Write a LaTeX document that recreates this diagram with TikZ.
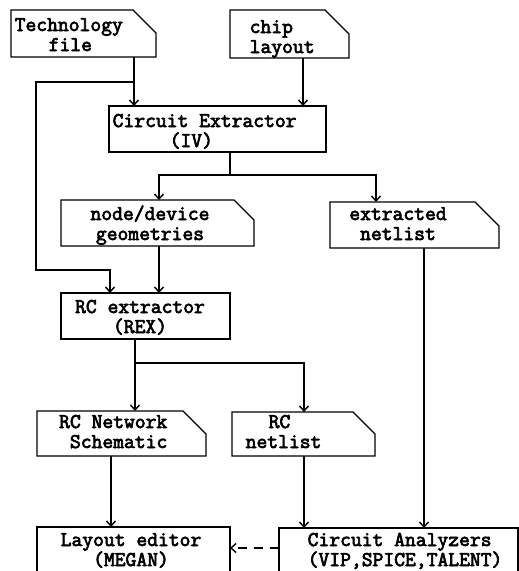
\documentclass[tikz,border=0pt]{standalone}
\usepackage{fontspec}
\newfontfamily\boldmono[FakeBold=3.2]{Latin Modern Mono}
\usetikzlibrary{arrows.meta}
\newcommand\docshape[2]{\draw (#1.south west) -- (#1.north west) -- ([xshift=-#2pt]#1.north east) -- ([yshift=-#2pt]#1.north east) -- (#1.south east) -- cycle;}
\begin{document}
\begin{tikzpicture}[x=1pt,y=-1pt,
  line width=1.4pt,
  boxn/.style={draw=none, inner sep=0pt, outer sep=0pt, rectangle},
  rectbox/.style={draw, inner sep=0pt, outer sep=0pt, rectangle},
  lbl/.style={font=\fontsize{21}{20}\boldmono, inner sep=0pt},
  arr/.style={-{Straight Barb[length=5pt,width=9pt]}},
  ]
\useasboundingbox (0,0) rectangle (519,571);
\clip (0,0) rectangle (519,571);
% boxes
\node[boxn, minimum width=145pt, minimum height=47pt] (tech) at (83.5,33.5) {};
\node[boxn, minimum width=119pt, minimum height=48pt] (chip) at (289.5,34) {};
\node[rectbox, minimum width=217pt, minimum height=46pt] (CE) at (217.5,129) {};
\node[boxn, minimum width=193pt, minimum height=46pt] (nd) at (157.5,223) {};
\node[boxn, minimum width=169pt, minimum height=46pt] (en) at (414.5,225) {};
\node[rectbox, minimum width=169pt, minimum height=46pt] (rcx) at (145.5,316) {};
\node[boxn, minimum width=169pt, minimum height=45pt] (rcn) at (121.5,433.5) {};
\node[boxn, minimum width=143pt, minimum height=44pt] (rcnl) at (303.5,434) {};
\node[rectbox, minimum width=193pt, minimum height=73pt] (le) at (133.5,563.5) {};
\node[rectbox, minimum width=239pt, minimum height=72pt] (ca) at (398.5,564) {};
\docshape{tech}{23}
\docshape{chip}{24}
\docshape{nd}{20}
\docshape{en}{24}
\docshape{rcn}{23}
\docshape{rcnl}{22}
% texts
\node[lbl, anchor=base west] (t1a) at (14,31) {Technology};
\node[lbl, anchor=base west] (t1b) at (48,51) {file};
\node[lbl, anchor=base west] (t2a) at (249,33) {chip};
\node[lbl, anchor=base west] (t2b) at (249,53) {layout};
\node[lbl, anchor=base west] (t3a) at (112,127) {Circuit Extractor};
\node[lbl, anchor=base west] (t3b) at (169,147) {(IV)};
\node[lbl, anchor=base] (t4a) at (150,220) {node/device};
\node[lbl, anchor=base] (t4b) at (150,240) {geometries};
\node[lbl, anchor=base] (t5a) at (398,220) {extracted};
\node[lbl, anchor=base] (t5b) at (398,240) {netlist};
\node[lbl, anchor=base] (t6a) at (140,313) {RC extractor};
\node[lbl, anchor=base] (t6b) at (140,333) {(REX)};
\node[lbl, anchor=base east] (t7a) at (168,428) {RC Network};
\node[lbl, anchor=base east] (t7b) at (168,448) {Schematic};
\node[lbl, anchor=base west] (t8a) at (268,428) {RC};
\node[lbl, anchor=base west] (t8b) at (245,448) {netlist};
\node[lbl, anchor=base] (t9a) at (131,546) {Layout editor};
\node[lbl, anchor=base] (t9b) at (131,566) {(MEGAN)};
\node[lbl, anchor=base west] (t10a) at (307,546) {Circuit Analyzers};
\node[lbl, anchor=base west] (t10b) at (307,566) {(VIP,SPICE,TALENT)};
% connector positions
\coordinate (xa) at (134,0);
\coordinate (xb) at (303,0);
\coordinate (xd) at (159,0);
\coordinate (xe) at (376,0);
\coordinate (xf) at (424,0);
\coordinate (xh) at (304,0);
\coordinate (xi) at (111,0);
\coordinate (j1) at (134,82);
\coordinate (j2) at (36,270);
\coordinate (j3) at (110,270);
\coordinate (f1) at (230,175);
\coordinate (f2) at (135,363);
\coordinate (yd) at (0,548);
% connectors
\draw[arr] (tech.south -| xa) -- (CE.north -| xa);
\draw[arr] (j1) -- (j1 -| j2) -- (j2) -- (j3) -- (rcx.north -| j3);
\draw[arr] (chip.south -| xb) -- (CE.north -| xb);
\draw (CE.south -| f1) -- (f1);
\draw[arr] (f1) -- (f1 -| xd) -- (nd.north -| xd);
\draw[arr] (f1) -- (f1 -| xe) -- (en.north -| xe);
\draw[arr] (nd.south -| xd) -- (rcx.north -| xd);
\draw[arr] (en.south -| xf) -- (ca.north -| xf);
\draw[arr] (rcx.south -| f2) -- (rcn.north -| f2);
\draw[arr] (f2) -- (f2 -| xh) -- (rcnl.north -| xh);
\draw[arr] (rcn.south -| xi) -- (le.north -| xi);
\draw[arr] (rcnl.south -| xh) -- (ca.north -| xh);
\draw[arr, dash pattern=on 9pt off 7pt] (ca.west |- yd) -- (le.east |- yd);
\end{tikzpicture}
\end{document}
